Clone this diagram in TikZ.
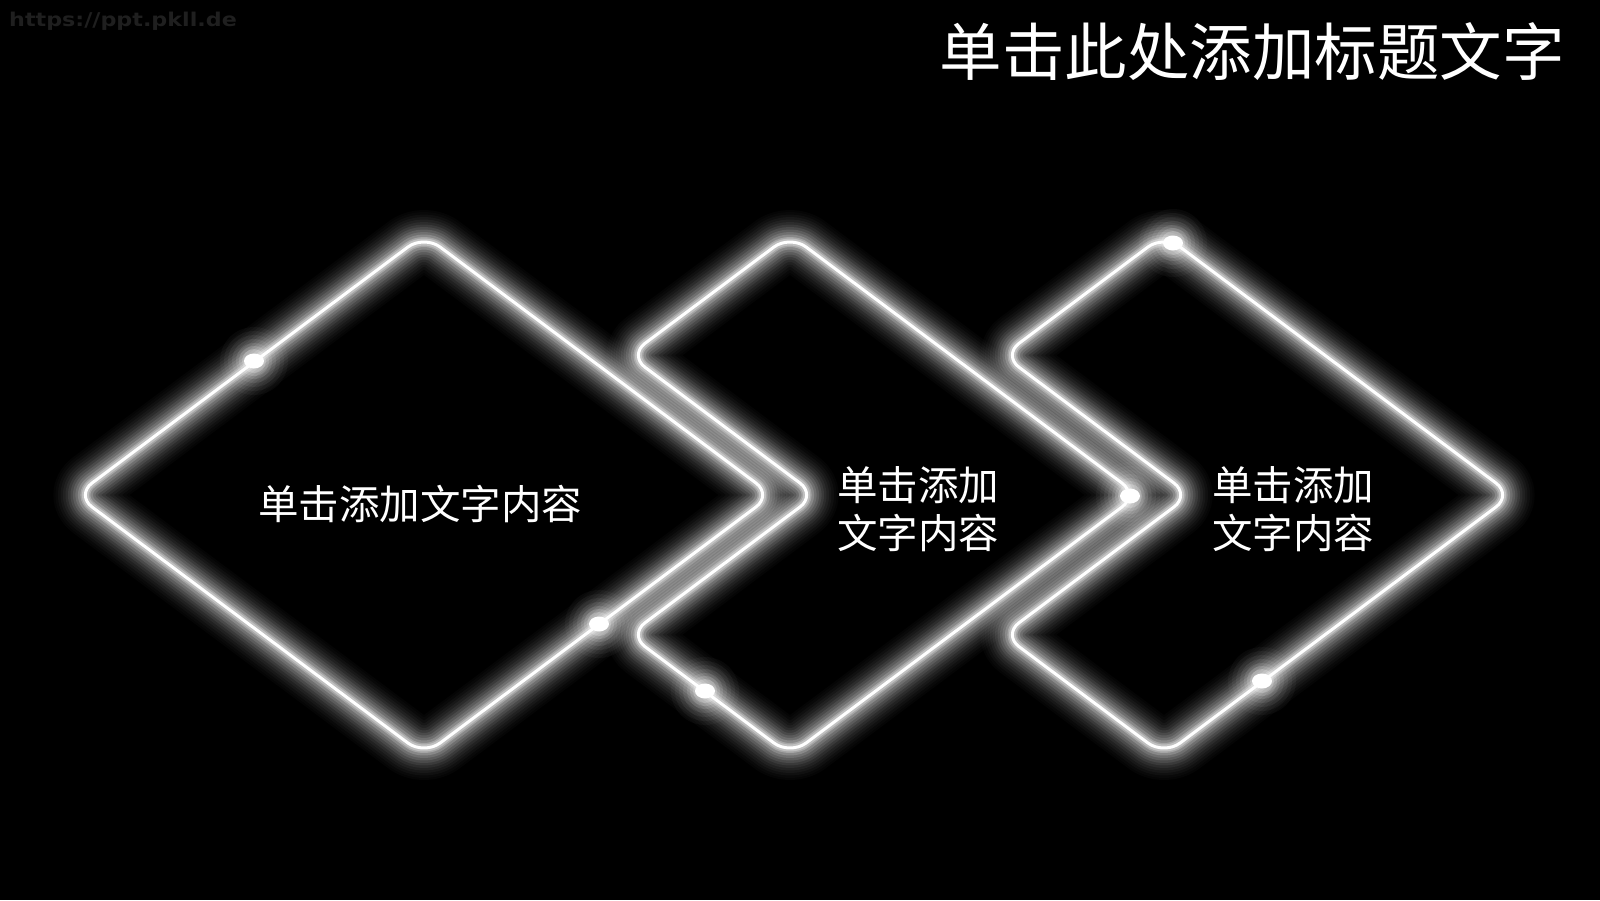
\documentclass[tikz,border=0pt]{standalone}
\usepackage{fontspec}
\newfontfamily\cjk{Noto Sans CJK SC}
\newfontfamily\wmfont{DejaVu Sans}
\newcommand\neonglow[1]{%
  \foreach \w/\o in {64/0.02,60/0.02,55/0.03,50/0.035,45/0.045,40/0.05,35/0.065,30/0.085,25/0.1,20/0.12,15/0.18,10/0.25,7/0.3}{%
    \draw[white, line width=\w pt, opacity=\o, rounded corners=20pt, line join=round] #1;}%
}
\newcommand\neonline[1]{\draw[white, line width=3pt, rounded corners=20pt, line join=round] #1;}
\newcommand\spark[1]{%
  \foreach \r/\o in {34/0.03,30/0.04,26/0.05,22/0.07,18/0.1,15/0.14,12/0.22}{\fill[white,opacity=\o] #1 circle (\r pt);}%
  \fill[white] #1 ellipse (10pt and 7.5pt);}
\begin{document}
\begin{tikzpicture}[x=1pt,y=-1pt,
  txt/.style={text=white, font=\cjk\fontsize{40.5}{48}\selectfont, align=center, inner sep=0pt}]
\fill[black] (0,0) rectangle (1600,900);
\useasboundingbox (0,0) rectangle (1600,900);
\def\pathA{(424,235) -- (772,495) -- (424,755) -- (76,495) -- cycle}
\def\pathB{(790,235) -- (1138,495) -- (790,755) -- (629,634.7) -- (816,495) -- (629,355.3) -- cycle}
\def\pathC{(1164,235) -- (1512,495) -- (1164,755) -- (1003,634.7) -- (1190,495) -- (1003,355.3) -- cycle}
\neonglow{\pathA}
\neonglow{\pathB}
\neonglow{\pathC}
\neonline{\pathA}
\neonline{\pathB}
\neonline{\pathC}
\coordinate (s1) at (254,361);
\coordinate (s2) at (599,624);
\coordinate (s3) at (705,691);
\coordinate (s4) at (1130,496);
\coordinate (s5) at (1173,243);
\coordinate (s6) at (1262,681);
\spark{(s1)}\spark{(s2)}\spark{(s3)}\spark{(s4)}\spark{(s5)}\spark{(s6)}
\node[txt] (t1) at (420,504) {单击添加文字内容};
\node[txt] (t2) at (918,509) {单击添加\\文字内容};
\node[txt] (t3) at (1293,509) {单击添加\\文字内容};
\node[text=white, font=\cjk\fontsize{62.5}{72}\selectfont, inner sep=0pt] (title) at (1252,52) {单击此处添加标题文字};
\node[text=white!12!black, font=\wmfont\bfseries\fontsize{19}{22}\selectfont, anchor=west, inner sep=0pt, xscale=1.17] (wm) at (9,21) {https://ppt.pkll.de};
\end{tikzpicture}
\end{document}
